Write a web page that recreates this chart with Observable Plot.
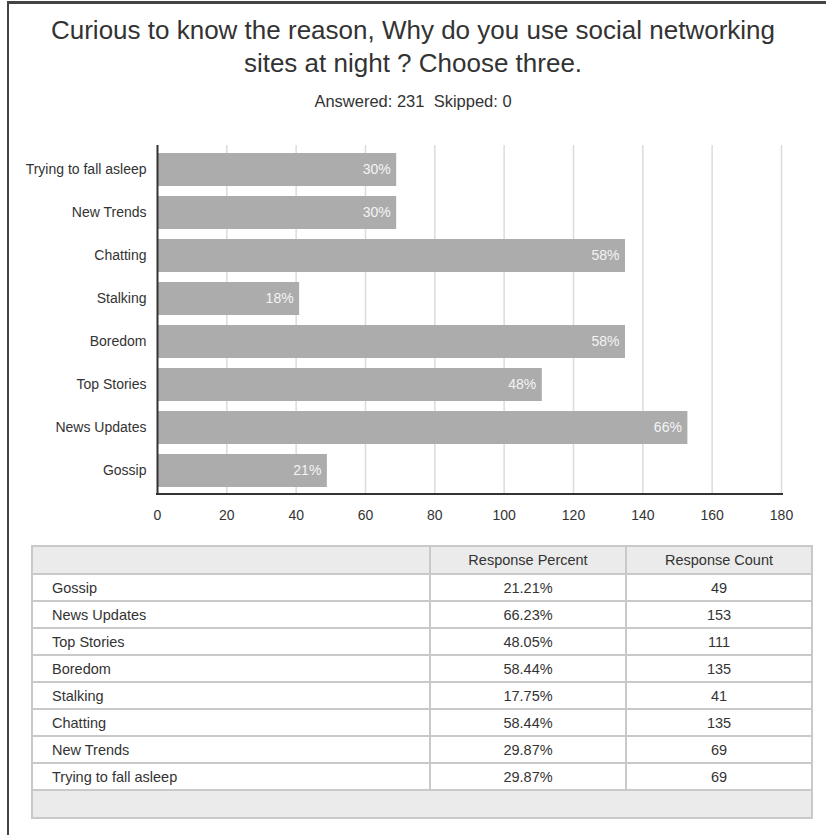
<!DOCTYPE html>
<html>
<head>
<meta charset="utf-8">
<script src="https://cdn.jsdelivr.net/npm/d3@7"></script>
<script src="https://cdn.jsdelivr.net/npm/@observablehq/plot@0.6"></script>
<style>
  html, body { margin: 0; padding: 0; background: #fff; width: 826px; height: 835px; overflow: hidden; }
  body { font-family: "Liberation Sans", Arial, Helvetica, sans-serif; color: #333; position: relative; }
  #frame { position: absolute; left: 7px; top: 1px; width: 900px; height: 900px; border-left: 2px solid #444; border-top: 3px solid #444; }
  #title { position: absolute; left: 0; width: 826px; top: 14px; text-align: center; font-size: 26px; line-height: 33px; color: #333; }
  #sub { position: absolute; left: 0; width: 826px; top: 91px; text-align: center; font-size: 16.5px; line-height: 20px; color: #333; }
  #chart { position: absolute; left: 0; top: 130px; }
  #tbl { position: absolute; left: 31px; top: 545px; border-collapse: collapse; font-size: 14.5px; color: #333; }
  #tbl td { border: 2px solid #c9c9c9; height: 25px; padding: 0; }
  #tbl td.name { text-align: left; padding-left: 19px; }
  #tbl td.num { text-align: center; }
  #tbl tr.head td { background: #ebebeb; height: 26px; }
  #tbl tr.foot td { background: #ebebeb; height: 26px; }
</style>
</head>
<body>
<div id="frame"></div>
<div id="title">Curious to know the reason, Why do you use social networking<br>sites at night ? Choose three.</div>
<div id="sub">Answered: 231&nbsp;&nbsp;Skipped: 0</div>
<div id="chart"></div>
<table id="tbl"></table>
<script>
// Data
const categories = ["Gossip", "News Updates", "Top Stories", "Boredom", "Stalking", "Chatting", "New Trends", "Trying to fall asleep"];
const counts = [49, 153, 111, 135, 41, 135, 69, 69];
const percents = [21.21, 66.23, 48.05, 58.44, 17.75, 58.44, 29.87, 29.87];
const xTicks = [0, 20, 40, 60, 80, 100, 120, 140, 160, 180];
const answered = 231;

const rows = categories.map((c, i) => ({category: c, count: counts[i], percent: percents[i], label: Math.round(percents[i]) + "%"}));
const yOrder = categories.slice().reverse();

const H = 405, MT = 15, MB = 41;
const plot = Plot.plot({
  width: 826,
  height: H,
  marginLeft: 157,
  marginRight: 45,
  marginTop: MT,
  marginBottom: MB,
  style: {fontFamily: '"Liberation Sans", Arial, Helvetica, sans-serif', fontSize: "14px", color: "#333", background: "transparent"},
  x: {domain: [0, 180], ticks: xTicks, label: null},
  y: {domain: yOrder, label: null, paddingInner: 0.24, paddingOuter: 0.12},
  marks: [
    Plot.ruleX(xTicks.filter(d => d > 0), {stroke: "#dcdcdc", strokeWidth: 1.5}),
    Plot.barX(rows, {y: "category", x: "count", fill: "#acacac"}),
    Plot.text(rows, {y: "category", x: "count", text: "label", textAnchor: "end", dx: -6, fill: "#f4f4f4", fontSize: 14}),
    Plot.axisX({ticks: xTicks, tickSize: 0, tickPadding: 16, label: null, fontSize: 14}),
    Plot.axisY({tickSize: 0, tickPadding: 11, label: null, fontSize: 14}),
    Plot.ruleX([0], {stroke: "#333", strokeWidth: 2})
  ]
});
document.getElementById("chart").appendChild(plot);
// bottom baseline along the x scale
const xs = plot.scale("x");
d3.select(plot).append("line")
  .attr("x1", xs.apply(0) - 1).attr("x2", xs.apply(180) + 2)
  .attr("y1", H - MB).attr("y2", H - MB)
  .attr("stroke", "#333").attr("stroke-width", 2);

// Table
const tbl = document.getElementById("tbl");
const colW = [398, 196, 186];
let html = '<colgroup>' + colW.map(w => `<col style="width:${w}px">`).join('') + '</colgroup>';
html += '<tr class="head"><td></td><td class="num">Response Percent</td><td class="num">Response Count</td></tr>';
rows.forEach(r => {
  html += `<tr><td class="name">${r.category}</td><td class="num">${r.percent.toFixed(2)}%</td><td class="num">${r.count}</td></tr>`;
});
html += '<tr class="foot"><td colspan="3"></td></tr>';
tbl.innerHTML = html;
tbl.style.width = colW.reduce((a, b) => a + b, 0) + "px";
tbl.style.tableLayout = "fixed";
</script>
</body>
</html>
